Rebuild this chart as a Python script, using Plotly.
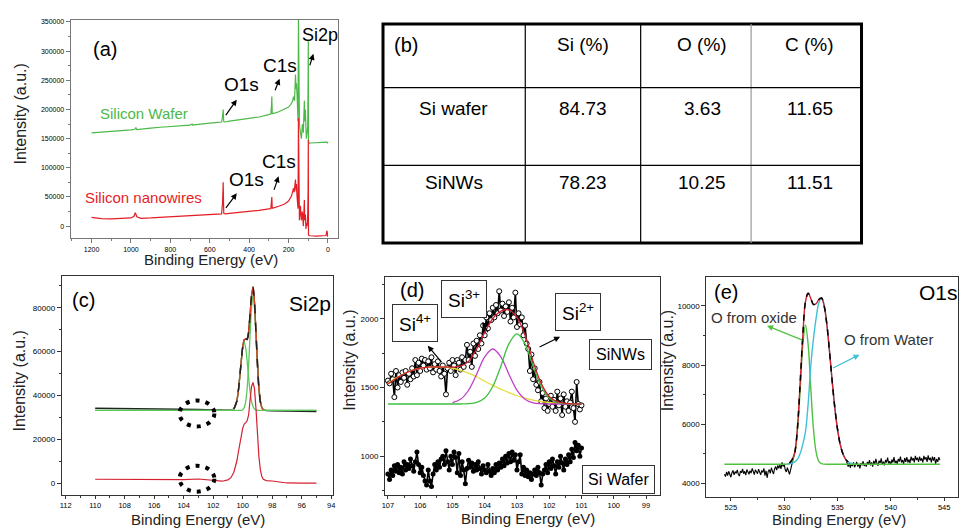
import numpy as np
import plotly.graph_objects as go

W, H = 962, 531
FONT = "Arial, Liberation Sans, sans-serif"


def px(x):
    return x / W


def py(y):
    return 1 - y / H


# ---------------- (a) survey spectra ----------------
a_E_wafer = [1200, 1150, 1100, 1050, 1000, 980, 975, 970, 950, 900,
             850, 800, 750, 700, 690, 685, 680, 650, 600, 560,
             540, 535, 532, 529, 525, 500, 450, 400, 350, 300,
             290, 287, 285, 283, 280, 250, 220, 200, 190, 180,
             175, 170, 168, 165, 162, 160, 157, 155, 152, 150,
             148, 145, 140, 135, 130, 125, 120, 118, 115, 112,
             110, 106, 103, 101, 100, 99, 97, 95, 90, 60,
             30, 10, 5, 0]
a_I_wafer = [160000, 161000, 162000, 163500, 165000, 166000, 169000, 165500, 166500, 168000,
             169500, 170500, 172000, 173000, 175000, 173000, 173500, 175000, 176500, 178000,
             178500, 188000, 200000, 179000, 178500, 180000, 182000, 184500, 187000, 191000,
             192000, 205000, 222000, 193000, 193000, 196000, 200000, 204000, 208000, 214000,
             222000, 215000, 232000, 260000, 235000, 245000, 225000, 200000, 180000, 355000,
             200000, 175000, 160000, 150000, 175000, 160000, 215000, 180000, 200000, 155000,
             150000, 160000, 170000, 250000, 320000, 145000, 143000, 142000, 142500, 143000,
             143500, 143000, 144000, 142000]
a_E_nw = [1200, 1150, 1100, 1050, 1000, 985, 978, 970, 950, 900,
          850, 800, 750, 700, 650, 600, 560, 540, 535, 532,
          529, 520, 500, 450, 400, 350, 300, 290, 287, 285,
          283, 280, 250, 220, 200, 185, 175, 172, 168, 165,
          162, 160, 157, 155, 152, 150, 148, 145, 140, 135,
          130, 125, 120, 118, 115, 112, 110, 106, 103, 101,
          100, 99, 97, 90, 60, 30, 10, 6, 4, 2,
          0]
a_I_nw = [15000, 13000, 12500, 13000, 14000, 17000, 23000, 16000, 13500, 14000,
          15000, 16000, 16500, 17000, 18500, 19500, 20500, 21000, 40000, 75000,
          22000, 21000, 22000, 23500, 25000, 27000, 29500, 30000, 42000, 50000,
          31000, 31000, 34000, 38000, 43000, 52000, 65000, 58000, 70000, 80000,
          60000, 72000, 50000, 40000, 30000, 185000, 20000, 10000, 35000, 10000,
          25000, 0, 45000, 10000, 20000, -5000, 5000, 0, 20000, 60000,
          148000, -15000, -16000, -16500, -17000, -17000, -16000, -8000, -10000, -17000,
          -17000]

# ---------------- (b) table ----------------
table_cols = ["Si (%)", "O (%)", "C (%)"]
table_rows = ["Si wafer", "SiNWs"]
table_vals = [[84.73, 3.63, 11.65],
              [78.23, 10.25, 11.51]]

# ---------------- (c) Si2p ----------------
c_E = [110, 108, 106, 104, 103, 102, 101.4, 101.0, 100.8, 100.6,
       100.4, 100.3, 100.2, 100.1, 100.0, 99.9, 99.8, 99.7, 99.6, 99.5,
       99.4, 99.3, 99.2, 99.1, 99.0, 98.9, 98.8, 98.7, 98.6, 98.4,
       98.0, 97.0, 96.0, 95.0]
c_wafer_env = [34200, 34100, 34000, 33800, 33600, 33400, 33300, 33250, 33260, 33820,
               37390, 41830, 48330, 55800, 62110, 65450, 65730, 65630, 68840, 77000,
               85500, 89500, 82500, 68500, 54000, 43130, 37130, 34450, 33510, 33150,
               33000, 32900, 32800, 32700]
c_wafer_p12 = [33200, 33200, 33200, 33200, 33200, 33200, 33200, 33200, 33260, 33820,
               37390, 41820, 48300, 55700, 61800, 64200, 61800, 55700, 48300, 41820,
               37390, 34940, 33820, 33390, 33260, 33200, 33200, 33200, 33200, 33200,
               33200, 33200, 33200, 33200]
c_wafer_p32 = [33200, 33200, 33200, 33200, 33200, 33200, 33200, 33200, 33200, 33200,
               33200, 33200, 33200, 33200, 33510, 34450, 37130, 43130, 53740, 67620,
               80100, 85200, 80100, 67620, 53740, 43130, 37130, 34450, 33510, 33200,
               33200, 33200, 33200, 33200]
c_nw = [1800, 1700, 1600, 1600, 1900, 1300, 900, 1500, 2500, 5000,
        10000, 14000, 18000, 22000, 25000, 27000, 27500, 28500, 31000, 38000,
        44000, 46000, 43000, 34000, 22000, 12000, 6000, 3000, 1800, 1200,
        1000, 100, 50, 0]

# ---------------- (d) Si2p high resolution ----------------
d_nw = [1550, 1530, 1600, 1560, 1430, 1620, 1500, 1590, 1540, 1610,
        1570, 1620, 1520, 1600, 1560, 1640, 1580, 1700, 1590, 1680,
        1620, 1710, 1660, 1700, 1630, 1690, 1640, 1720, 1610, 1670,
        1630, 1690, 1620, 1580, 1660, 1600, 1450, 1640, 1680, 1620,
        1700, 1660, 1590, 1700, 1680, 1630, 1720, 1650, 1700, 1810,
        1700, 1760, 1650, 1820, 1730, 1840, 1780, 1880, 1820, 1950,
        1880, 2010, 1930, 2040, 1990, 2080, 2010, 2100, 2040, 2200,
        2060, 2110, 2020, 2090, 2050, 2120, 1980, 2080, 2010, 2190,
        1940, 2040, 1960, 2010, 1880, 1950, 1820, 1780, 1620, 1740,
        1560, 1640, 1520, 1480, 1540, 1400, 1460, 1350, 1420, 1330,
        1380, 1440, 1360, 1410, 1330, 1470, 1370, 1420, 1300, 1450,
        1360, 1400, 1330, 1390, 1470, 1350, 1250, 1540, 1380, 1340,
        1370]
d_wafer = [870, 830, 900, 860, 930, 890, 940, 880, 920, 870,
           960, 900, 940, 910, 980, 930, 890, 960, 1030, 940,
           880, 920, 860, 820, 790, 900, 820, 780, 870, 940,
           900, 960, 920, 980, 1000, 940, 1040, 960, 900, 1000,
           940, 1030, 990, 880, 1020, 860, 960, 900, 800, 910,
           970, 920, 950, 890, 940, 900, 960, 910, 870, 930,
           900, 880, 940, 890, 860, 910, 880, 940, 900, 950,
           920, 980, 930, 1000, 950, 1020, 960, 1030, 970, 1010,
           900, 960, 1010, 870, 920, 860, 900, 850, 880, 830,
           870, 900, 860, 920, 880, 790, 870, 900, 940, 880,
           960, 910, 980, 930, 870, 960, 920, 1000, 950, 900,
           980, 940, 1010, 960, 1050, 990, 1100, 1040, 1080, 1000,
           1060]
d_E_start, d_E_end = 107.0, 101.0
d_fit_E = [107, 106.75, 106.5, 106.25, 106, 105.75, 105.5, 105.25, 105, 104.75,
           104.5, 104.25, 104, 103.75, 103.5, 103.25, 103, 102.75, 102.5, 102.25,
           102, 101.75, 101.5, 101.25, 101]
d_si4 = [1530, 1570, 1600, 1625, 1640, 1648, 1650, 1648, 1640, 1625,
         1605, 1578, 1545, 1515, 1488, 1462, 1440, 1422, 1408, 1398,
         1391, 1386, 1383, 1381, 1380]
d_si3 = [None, None, None, None, None, None, None, None, 1390, 1414,
         1480, 1596, 1723, 1780, 1723, 1596, 1480, 1414, 1388, 1382,
         1380, 1380, 1380, 1380, 1380]
d_si2 = [1380, 1380, 1380, 1380, 1380, 1380, 1380, 1380, 1380, 1380,
         1382, 1391, 1423, 1507, 1655, 1817, 1890, 1817, 1655, 1507,
         1423, 1391, 1382, 1380, 1380]
d_sum = [1525, 1565, 1600, 1625, 1640, 1648, 1650, 1648, 1648, 1655,
         1690, 1780, 1900, 2000, 2055, 2065, 2010, 1880, 1690, 1530,
         1435, 1397, 1385, 1381, 1380]

# ---------------- (e) O1s ----------------
e_left_start, e_left_end = 524.4, 531.0
e_left = [4300, 4220, 4380, 4250, 4400, 4310, 4200, 4350, 4430, 4280,
          4390, 4330, 4450, 4300, 4240, 4410, 4350, 4480, 4320, 4400,
          4270, 4460, 4380, 4300, 4420, 4340, 4500, 4360, 4290, 4450,
          4380, 4320, 4470, 4400, 4280, 4430, 4360, 4500, 4250, 4420,
          4180, 4390, 4460, 4330, 4520, 4400, 4310, 4480, 4560, 4440,
          4600, 4500, 4620, 4480, 4700, 4560, 4650, 4450, 4380, 4520,
          4420, 4300, 4450, 4600, 4700, 4850, 5050]
e_right_start, e_right_end = 535.8, 544.6
e_right = [4800, 4700, 4560, 4680, 4520, 4650, 4580, 4700, 4540, 4620,
           4720, 4560, 4650, 4500, 4680, 4600, 4740, 4580, 4660, 4560,
           4720, 4630, 4780, 4600, 4700, 4560, 4750, 4640, 4820, 4660,
           4590, 4760, 4680, 4840, 4620, 4730, 4600, 4780, 4700, 4860,
           4660, 4740, 4620, 4800, 4700, 4880, 4680, 4760, 4640, 4820,
           4730, 4900, 4700, 4780, 4650, 4850, 4720, 4880, 4700, 4800,
           4680, 4900, 4760, 4850, 4700, 4920, 4780, 4860, 4720, 4900,
           4760, 4840, 4700, 4920, 4800, 4880, 4720, 4940, 4780, 4860,
           4700, 4900, 4760, 4880, 4650, 4820, 4720, 4880, 4780]
e_fit_E = [524.4,
           529.5, 529.75, 530.0, 530.25, 530.5, 530.75, 531.0, 531.25, 531.5, 531.75,
           532.0, 532.25, 532.5, 532.75, 533.0, 533.25, 533.5, 533.75, 534.0, 534.25,
           534.5, 534.75, 535.0, 535.25, 535.5, 535.75, 536.0, 536.25, 536.5,
           544.6]
e_oxide = [4640,
           4640, 4640, 4640, 4642, 4658, 4740, 5040, 5815, 7180, 8677,
           9350, 8677, 7180, 5815, 5040, 4740, 4658, 4642, 4640, 4640,
           4640, 4640, 4640, 4640, 4640, 4640, 4640, 4640, 4640,
           4640]
e_water = [None,
           None, None, None, 4645, 4655, 4675, 4720, 4810, 5000, 5320,
           5750, 6700, 8000, 8900, 9600, 10100, 10270, 10035, 9380, 8460,
           7460, 6550, 5830, 5320, 5000, 4810, 4720, 4675, 4655,
           None]
e_sum = [None,
         None, None, None, None, 4680, 4800, 5050, 5900, 7400, 9000,
         10150, 10430, 10250, 10050, 10080, 10220, 10270, 10000, 9380, 8460,
         7460, 6550, 5830, 5320, 5000, 4810, 4720, None, None,
         None]

# ---------------- figure ----------------
fig = go.Figure()

GREEN_A = "#4cb848"
RED_A = "#e41e26"

# (a)
fig.add_trace(go.Scatter(x=a_E_wafer, y=a_I_wafer, mode="lines",
                         line=dict(color=GREEN_A, width=1.2), xaxis="x", yaxis="y"))
fig.add_trace(go.Scatter(x=a_E_nw, y=a_I_nw, mode="lines",
                         line=dict(color=RED_A, width=1.2), xaxis="x", yaxis="y"))

# (c)
fig.add_trace(go.Scatter(x=c_E, y=c_wafer_env, mode="lines",
                         line=dict(color="#222222", width=1.4), xaxis="x2", yaxis="y2"))
fig.add_trace(go.Scatter(x=c_E, y=c_wafer_p12, mode="lines", line_shape="spline",
                         line=dict(color="#5cc85c", width=1.3), xaxis="x2", yaxis="y2"))
fig.add_trace(go.Scatter(x=c_E, y=c_wafer_p32, mode="lines", line_shape="spline",
                         line=dict(color="#5cc85c", width=1.3), xaxis="x2", yaxis="y2"))
fig.add_trace(go.Scatter(x=c_E[9:29], y=c_wafer_env[9:29], mode="lines", line_shape="spline",
                         line=dict(color="#e04020", width=1.3), xaxis="x2", yaxis="y2"))
fig.add_trace(go.Scatter(x=c_E[9:29], y=c_wafer_env[9:29], mode="lines", line_shape="spline",
                         line=dict(color="#222222", width=1.5, dash="dash"), xaxis="x2", yaxis="y2"))
fig.add_trace(go.Scatter(x=c_E, y=c_nw, mode="lines",
                         line=dict(color="#d42030", width=1.2), xaxis="x2", yaxis="y2"))

# (d)
d_E = np.linspace(d_E_start, d_E_end, len(d_nw))
d_Ew = np.linspace(d_E_start, d_E_end, len(d_wafer))
fig.add_trace(go.Scatter(x=d_Ew, y=d_wafer, mode="lines+markers",
                         line=dict(color="black", width=1.6),
                         marker=dict(symbol="circle", size=5, color="black"),
                         xaxis="x3", yaxis="y3"))
fig.add_trace(go.Scatter(x=d_E, y=d_nw, mode="lines+markers",
                         line=dict(color="black", width=1.6),
                         marker=dict(symbol="circle", size=5, color="white",
                                     line=dict(color="black", width=1)),
                         xaxis="x3", yaxis="y3"))
fig.add_trace(go.Scatter(x=d_fit_E, y=d_si4, mode="lines", line_shape="spline",
                         line=dict(color="#e6dc3c", width=1.3), xaxis="x3", yaxis="y3"))
fig.add_trace(go.Scatter(x=d_fit_E, y=d_si3, mode="lines", line_shape="spline",
                         line=dict(color="#c040c8", width=1.3), xaxis="x3", yaxis="y3"))
fig.add_trace(go.Scatter(x=d_fit_E, y=d_si2, mode="lines", line_shape="spline",
                         line=dict(color="#40c040", width=1.3), xaxis="x3", yaxis="y3"))
fig.add_trace(go.Scatter(x=d_fit_E, y=d_sum, mode="lines", line_shape="spline",
                         line=dict(color="#d02030", width=1.3), xaxis="x3", yaxis="y3"))

# (e)
e_El = np.linspace(e_left_start, e_left_end, len(e_left))
e_Er = np.linspace(e_right_start, e_right_end, len(e_right))
fig.add_trace(go.Scatter(x=e_El, y=e_left, mode="lines",
                         line=dict(color="black", width=1.1), xaxis="x4", yaxis="y4"))
fig.add_trace(go.Scatter(x=e_Er, y=e_right, mode="lines",
                         line=dict(color="black", width=1.1), xaxis="x4", yaxis="y4"))
fig.add_trace(go.Scatter(x=e_fit_E, y=e_oxide, mode="lines", line_shape="spline",
                         line=dict(color="#50c040", width=1.4), xaxis="x4", yaxis="y4"))
fig.add_trace(go.Scatter(x=e_fit_E, y=e_water, mode="lines", line_shape="spline",
                         line=dict(color="#40c0d8", width=1.4), xaxis="x4", yaxis="y4"))
fig.add_trace(go.Scatter(x=e_fit_E, y=e_sum, mode="lines", line_shape="spline",
                         line=dict(color="#d02030", width=1.4), xaxis="x4", yaxis="y4"))
fig.add_trace(go.Scatter(x=e_fit_E, y=e_sum, mode="lines", line_shape="spline",
                         line=dict(color="black", width=1.5, dash="6px,6px"),
                         xaxis="x4", yaxis="y4"))


def ax(dom, rng, dtick, minor, anchor, size=7.5, color="#333333", tlen=3):
    return dict(domain=dom, range=rng, dtick=dtick, tick0=0, anchor=anchor,
                showline=True, linecolor=color, linewidth=1, mirror=True,
                ticks="outside", ticklen=tlen, tickwidth=1, tickcolor=color,
                tickfont=dict(size=size, family=FONT, color="black"),
                tickformat="d", showgrid=False, zeroline=False,
                minor=dict(ticks="outside", dtick=minor, ticklen=2, tickcolor=color))


layout_axes = dict(
    xaxis=ax([px(68), px(337)], [1306, -52], 200, 100, "y", 7, "#777777", 4),
    yaxis=ax([py(237), py(18)], [-20500, 353400], 50000, 25000, "x", 7, "#777777", 4),
    xaxis2=ax([px(59), px(332)], [112.27, 93.86], 2, 1, "y2"),
    yaxis2=ax([py(495), py(275)], [-5450, 94545], 20000, 10000, "x2", 8, "#333333", 4),
    xaxis3=ax([px(384), px(660)], [107.09, 98.58], 1, 0.5, "y3"),
    yaxis3=ax([py(495), py(276)], [717, 2304], 500, 250, "x3", 8, "#333333", 4),
    xaxis4=ax([px(707), px(960)], [522.7, 546.3], 5, 2.5, "y4"),
    yaxis4=ax([py(497), py(276)], [3525, 10983], 2000, 1000, "x4", 8, "#333333", 4),
)

annotations = []
shapes = []


def label(x, y, text, size=15, color="black", **kw):
    d = dict(x=px(x), y=py(y), xref="paper", yref="paper", text=text, showarrow=False,
             font=dict(size=size, family=FONT, color=color), xanchor="center", yanchor="middle")
    d.update(kw)
    annotations.append(d)


def arrow(hx, hy, dx, dy, color="black"):
    annotations.append(dict(x=px(hx), y=py(hy), xref="paper", yref="paper", text="",
                            showarrow=True, ax=dx, ay=dy, arrowhead=2, arrowsize=1,
                            arrowwidth=1.2, arrowcolor=color))


# axis titles
for (cx, cy) in [(209, 258), (196, 519), (528, 518), (840, 519)]:
    label(cx, cy, "Binding Energy (eV)", 15, "#222222")
for (cx, cy) in [(18, 112), (17, 380), (348, 360), (668, 360)]:
    label(cx, cy, "Intensity (a.u.)", 16, "#222222", textangle=-90)

# (a) labels
label(103, 47, "(a)", 20)
label(319, 33, "Si2p", 18)
label(278, 64, "C1s", 19)
label(240, 83, "O1s", 19)
label(277, 160, "C1s", 19)
label(245, 178, "O1s", 19)
label(142, 112, "Silicon Wafer", 15, GREEN_A)
label(141, 196, "Silicon nanowires", 15, RED_A)
arrow(235, 98, -12, 17)
arrow(278, 77, -5, 13)
arrow(312, 52, -4, 13)
arrow(235, 192, -12, 16)
arrow(277, 175, -5, 15)

# (b) table
tx = [382, 525, 641, 752, 863]
ty = [22, 86, 164, 242]
shapes.append(dict(type="rect", xref="paper", yref="paper", x0=px(tx[0]), x1=px(tx[-1]),
                   y0=py(ty[-1]), y1=py(ty[0]), line=dict(color="black", width=3)))
for i, xv in enumerate(tx[1:-1]):
    shapes.append(dict(type="line", xref="paper", yref="paper", x0=px(xv), x1=px(xv),
                       y0=py(ty[-1]), y1=py(ty[0]),
                       line=dict(color="#999999" if i == 2 else "black", width=1.2)))
for yv in ty[1:-1]:
    shapes.append(dict(type="line", xref="paper", yref="paper", x0=px(tx[0]), x1=px(tx[-1]),
                       y0=py(yv), y1=py(yv), line=dict(color="black", width=1.2)))
col_cx = [453, 583, 703, 811]
row_cy = [43, 107, 181]
label(405, row_cy[0], "(b)", 20)
for j, c in enumerate(table_cols):
    label(col_cx[j + 1], row_cy[0], c, 19)
for i, r in enumerate(table_rows):
    label(col_cx[0], row_cy[i + 1], r, 19)
    for j, v in enumerate(table_vals[i]):
        label(col_cx[j + 1], row_cy[i + 1], f"{v:.2f}", 19)

# (c) labels and dotted circles
label(81, 299, "(c)", 20)
label(309, 303, "Si2p", 21)
for (cy, ry) in [(31800, 5900), (2045, 5900)]:
    shapes.append(dict(type="circle", xref="x2", yref="y2", x0=104.28, x1=101.92,
                       y0=cy - ry, y1=cy + ry,
                       line=dict(color="black", width=4, dash="4px,6px")))

# (d) labels
label(411, 289, "(d)", 20)
box = dict(bordercolor="#333333", borderwidth=1, bgcolor="white")
label(414, 322, "Si<sup>4+</sup>", 19, borderpad=6, **box)
label(463, 298, "Si<sup>3+</sup>", 19, borderpad=6, **box)
label(578, 311, "Si<sup>2+</sup>", 19, borderpad=6, **box)
label(621, 354, "SiNWs", 16, borderpad=6, **box)
label(619, 479, "Si Wafer", 16, borderpad=5, **box)
arrow(427, 345, 15, 18)
arrow(482, 321, 6, 12)
arrow(560, 336, -22, 11)

# (e) labels
label(727, 291, "(e)", 20)
label(940, 292, "O1s", 21)
label(755, 317, "O from oxide", 15, "#333333")
label(890, 339, "O from Water", 15, "#333333")
arrow(768, 325, 37, 15, "#50c040")
arrow(861, 354, -28, 14, "#40c0d8")

fig.update_layout(
    width=W, height=H, margin=dict(l=0, r=0, t=0, b=0),
    paper_bgcolor="white", plot_bgcolor="white", showlegend=False,
    font=dict(family=FONT, color="black"),
    annotations=annotations, shapes=shapes, **layout_axes,
)

fig.write_html("out.html", config={"displayModeBar": False},
               post_script="document.body.style.margin='0px';document.body.style.overflow='hidden';")
